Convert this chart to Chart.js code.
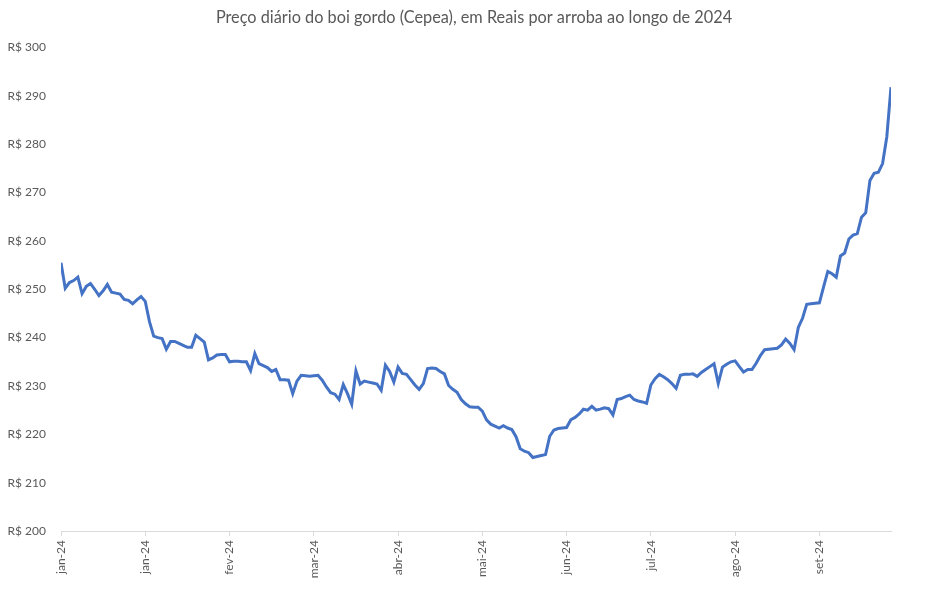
<!DOCTYPE html>
<html lang="pt-BR">
<head>
<meta charset="utf-8">
<title>Preço diário do boi gordo (Cepea)</title>
<script src="https://cdn.jsdelivr.net/npm/chart.js@4/dist/chart.umd.min.js"></script>
<style>
  html, body { margin: 0; padding: 0; background: #fff; }
  #wrap { width: 948px; height: 590px; position: relative; }
</style>
</head>
<body>
<div id="wrap"><canvas id="chart"></canvas></div>
<script>
// preço diário em R$/@ (dias úteis de jan a set de 2024)
const prices = [
  255.5, 250.2, 251.4, 251.8, 252.5, 249.1, 250.6, 251.2, 250.0, 248.7,
  249.7, 251.0, 249.4, 249.2, 249.0, 247.9, 247.7, 247.0, 247.8, 248.5,
  247.5, 243.3, 240.3, 240.0, 239.8, 237.6, 239.2, 239.2, 238.8, 238.4,
  238.0, 238.0, 240.5, 239.8, 239.1, 235.4, 235.8, 236.4, 236.5, 236.5,
  235.0, 235.1, 235.1, 235.0, 235.0, 233.2, 236.7, 234.6, 234.2, 233.8,
  233.0, 233.4, 231.3, 231.3, 231.2, 228.4, 231.0, 232.2, 232.1, 232.0,
  232.1, 232.2, 231.2, 229.8, 228.6, 228.3, 227.2, 230.3, 228.4, 226.2,
  233.1, 230.4, 231.0, 230.8, 230.6, 230.4, 229.1, 234.3, 233.0, 230.8,
  233.9, 232.6, 232.4, 231.3, 230.2, 229.3, 230.5, 233.6, 233.7, 233.6,
  233.0, 232.5, 230.1, 229.3, 228.7, 227.2, 226.3, 225.7, 225.6, 225.6,
  224.8, 223.0, 222.1, 221.7, 221.3, 221.8, 221.3, 221.0, 219.5, 217.0,
  216.5, 216.2, 215.2, 215.4, 215.6, 215.8, 219.6, 220.9, 221.2, 221.3,
  221.4, 223.0, 223.5, 224.2, 225.2, 225.0, 225.8, 225.0, 225.2, 225.5,
  225.3, 224.0, 227.2, 227.4, 227.8, 228.1, 227.2, 226.9, 226.7, 226.4,
  230.2, 231.5, 232.4, 231.9, 231.3, 230.5, 229.5, 232.2, 232.4, 232.4,
  232.5, 232.0, 232.8, 233.4, 234.0, 234.6, 230.5, 233.9, 234.5, 235.0,
  235.2, 234.0, 232.9, 233.4, 233.4, 234.7, 236.3, 237.5, 237.6, 237.7,
  237.8, 238.5, 239.7, 238.8, 237.5, 242.1, 244.0, 246.9, 247.0, 247.1,
  247.2, 250.5, 253.7, 253.2, 252.5, 256.9, 257.5, 260.4, 261.2, 261.5,
  264.9, 265.8, 272.5, 274.0, 274.2, 276.0, 281.5, 291.8
];

// rótulos do eixo X, um a cada 20 pregões
const tickLabels = ['jan-24', 'jan-24', 'fev-24', 'mar-24', 'abr-24', 'mai-24', 'jun-24', 'jul-24', 'ago-24', 'set-24'];
const labelStep = 20;

const yMin = 200;
const yMax = 300;
const yStep = 10;

const textColor = '#595959';
const axisColor = '#d9d9d9';
const lineColor = '#4472C4';
const fontFamily = 'Lato, "Open Sans", sans-serif';

const points = prices.map((v, i) => ({ x: i, y: v }));

new Chart(document.getElementById('chart'), {
  type: 'line',
  data: {
    datasets: [{
      data: points,
      borderColor: lineColor,
      borderWidth: 3,
      pointRadius: 0,
      tension: 0,
      fill: false
    }]
  },
  options: {
    responsive: true,
    maintainAspectRatio: false,
    animation: false,
    layout: { padding: 0 },
    plugins: {
      legend: { display: false },
      tooltip: { enabled: false },
      title: {
        display: true,
        text: 'Preço diário do boi gordo (Cepea), em Reais por arroba ao longo de 2024',
        color: textColor,
        font: { family: fontFamily, size: 16.3, weight: 'normal' },
        padding: { top: 8, bottom: 20 }
      }
    },
    scales: {
      x: {
        type: 'linear',
        min: 0,
        max: prices.length - 1,
        grid: { display: true, drawOnChartArea: false, drawTicks: true, tickLength: 5, color: axisColor },
        border: { display: true, color: axisColor },
        ticks: {
          stepSize: labelStep,
          includeBounds: false,
          autoSkip: false,
          minRotation: 90,
          maxRotation: 90,
          padding: 4,
          color: textColor,
          font: { family: fontFamily, size: 12 },
          callback: (v) => (v % labelStep === 0 ? tickLabels[v / labelStep] : '')
        },
        afterFit: (scale) => { scale.height = 59; }
      },
      y: {
        min: yMin,
        max: yMax,
        grid: { display: false, drawTicks: false },
        border: { display: false },
        ticks: {
          stepSize: yStep,
          padding: 15,
          color: textColor,
          font: { family: fontFamily, size: 12 },
          callback: (v) => 'R$ ' + v
        },
        afterFit: (scale) => { scale.width = 61; }
      },
      // eixo vazio à direita só para reservar a margem sem descentralizar o título
      yRight: {
        position: 'right',
        min: yMin,
        max: yMax,
        grid: { display: false, drawTicks: false },
        border: { display: false },
        ticks: { display: false },
        afterFit: (scale) => { scale.width = 57; }
      }
    }
  }
});
</script>
</body>
</html>
